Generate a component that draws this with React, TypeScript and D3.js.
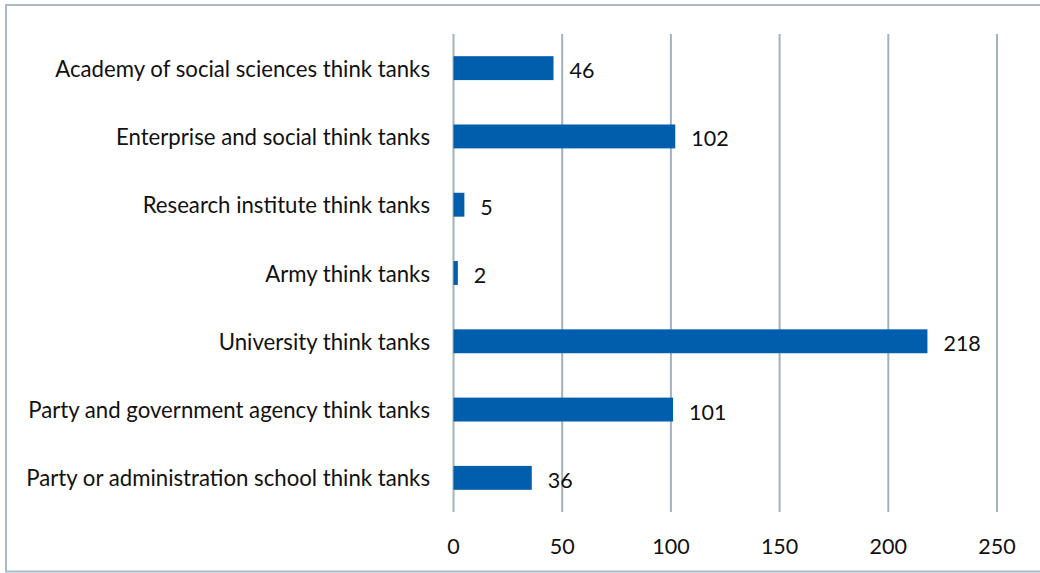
import React from "react";
import * as d3 from "d3";

const categories = [
  "Academy of social sciences think tanks",
  "Enterprise and social think tanks",
  "Research institute think tanks",
  "Army think tanks",
  "University think tanks",
  "Party and government agency think tanks",
  "Party or administration school think tanks",
];
const values = [46, 102, 5, 2, 218, 101, 36];
const xTicks = [0, 50, 100, 150, 200, 250];

const W = 1040;
const H = 573;
const FONT = "Lato, 'Open Sans', sans-serif";

export default function App() {
  const x = d3.scaleLinear().domain([0, 250]).range([453.5, 997]);
  const y = d3
    .scaleBand<string>()
    .domain(categories)
    .range([34, 512])
    .paddingInner(0.65)
    .paddingOuter(0.325);
  const bw = y.bandwidth();

  return (
    <svg
      width={W}
      height={H}
      style={{ position: "absolute", left: 0, top: 0 }}
      fontFamily={FONT}
    >
      <rect x={0} y={0} width={W} height={H} fill="#fff" />
      <rect
        x={6}
        y={5}
        width={1040}
        height={566.5}
        fill="none"
        stroke="#A9BAC4"
        strokeWidth={2}
      />
      {xTicks.map((t) => (
        <line
          key={t}
          x1={x(t)}
          x2={x(t)}
          y1={34}
          y2={512}
          stroke="#A2B3BC"
          strokeWidth={2}
        />
      ))}
      {categories.map((c, i) => (
        <g key={c}>
          <rect
            x={x(0)}
            y={y(c)!}
            width={x(values[i]) - x(0)}
            height={bw}
            fill="#005EAC"
          />
          <text
            x={430}
            y={y(c)! + bw / 2}
            textAnchor="end"
            dominantBaseline="central"
            fontSize={22.2}
            fill="#111"
          >
            {c}
          </text>
          <text
            x={x(values[i]) + 16}
            y={y(c)! + bw / 2 + 2}
            dominantBaseline="central"
            fontSize={21.5}
            fill="#111"
          >
            {values[i]}
          </text>
        </g>
      ))}
      {xTicks.map((t) => (
        <text
          key={"l" + t}
          x={x(t)}
          y={546}
          textAnchor="middle"
          dominantBaseline="central"
          fontSize={21.5}
          fill="#111"
        >
          {t}
        </text>
      ))}
    </svg>
  );
}
